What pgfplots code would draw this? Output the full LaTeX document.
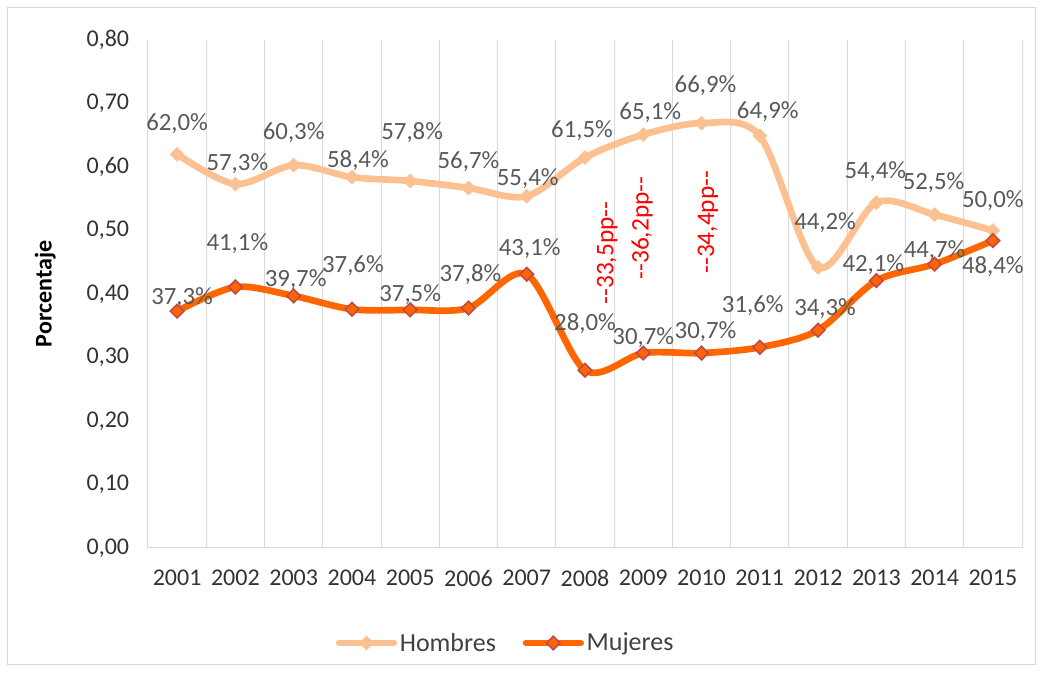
\documentclass[border=0pt]{standalone}
\usepackage{pgfplots}
\pgfplotsset{compat=1.18}
\usepackage{fontspec}
\setmainfont{Carlito}
\definecolor{hom}{RGB}{252,192,145}
\definecolor{muj}{RGB}{255,102,0}
\definecolor{mujedge}{RGB}{190,75,72}
\definecolor{gridc}{RGB}{217,217,217}
\definecolor{lblc}{RGB}{89,89,89}
\begin{document}
\begin{tikzpicture}[font=\fontsize{18}{21}\selectfont,
  dl/.style={text=lblc, inner sep=0pt, anchor=center, font=\fontsize{18.6}{21}\selectfont}]
\useasboundingbox (-111pt,-93.75pt) rectangle (670.5pt,411pt);
\draw[gridc, line width=0.75pt] (-105pt,-87.75pt) rectangle (665.25pt,405pt);
\begin{axis}[
  scale only axis, width=655.5pt, height=381pt,
  xmin=2000.5, xmax=2015.5, ymin=0, ymax=0.8,
  xtick={2001,2002,2003,2004,2005,2006,2007,2008,2009,2010,2011,2012,2013,2014,2015},
  xticklabels={2001,2002,2003,2004,2005,2006,2007,2008,2009,2010,2011,2012,2013,2014,2015},
  minor xtick={2000.5,2001.5,2002.5,2003.5,2004.5,2005.5,2006.5,2007.5,2008.5,2009.5,2010.5,2011.5,2012.5,2013.5,2014.5,2015.5},
  xminorgrids, minor grid style={gridc, line width=0.75pt},
  ytick={0,0.1,0.2,0.3,0.4,0.5,0.6,0.7,0.8},
  yticklabels={{0,00},{0,10},{0,20},{0,30},{0,40},{0,50},{0,60},{0,70},{0,80}},
  major tick length=0pt, minor tick length=0pt,
  axis line style={draw=none},
  tick style={draw=none},
  xticklabel style={anchor=center, yshift=-22.5pt, text=black!80},
  yticklabel style={anchor=east, inner sep=0pt, xshift=-14pt, text=black!80},
  clip=false,
  legend style={at={(0.4096,-0.187)}, anchor=center, draw=none, fill=none,
    legend columns=2, /tikz/every even column/.append style={column sep=18pt},
    text=black!75, font=\fontsize{19.5}{22}\selectfont},
  legend cell align=left,
  legend image code/.code={\draw[mark repeat=2, mark phase=2, #1] plot coordinates {(0pt,0pt) (20.5pt,0pt) (41pt,0pt)};},
]
\draw[gridc, line width=0.75pt] (rel axis cs:0,0) -- (rel axis cs:1,0);
\addplot[hom, line width=5pt, line cap=round, smooth, mark=square*, mark size=3.6pt,
  mark options={solid, rotate=45, fill=hom, draw=hom, line width=0.6pt}]
  coordinates {(2001,0.620) (2002,0.573) (2003,0.603) (2004,0.584) (2005,0.578) (2006,0.567) (2007,0.554) (2008,0.615) (2009,0.651) (2010,0.669) (2011,0.649) (2012,0.442) (2013,0.544) (2014,0.525) (2015,0.500)};
\addlegendentry{Hombres}
\addplot[muj, line width=5pt, line cap=round, smooth, mark=square*, mark size=3.6pt,
  mark options={solid, rotate=45, fill=muj, draw=mujedge, line width=1.2pt}]
  coordinates {(2001,0.373) (2002,0.411) (2003,0.397) (2004,0.376) (2005,0.375) (2006,0.378) (2007,0.431) (2008,0.280) (2009,0.307) (2010,0.307) (2011,0.316) (2012,0.343) (2013,0.421) (2014,0.447) (2015,0.484)};
\addlegendentry{Mujeres}
% Hombres labels
\node[dl, xshift=0pt, yshift=23.25pt] at (axis cs:2001,0.620) {62,0\%};
\node[dl, xshift=1.5pt, yshift=15.75pt] at (axis cs:2002,0.573) {57,3\%};
\node[dl, xshift=0pt, yshift=24pt] at (axis cs:2003,0.603) {60,3\%};
\node[dl, xshift=4.5pt, yshift=12.75pt] at (axis cs:2004,0.584) {58,4\%};
\node[dl, xshift=1.5pt, yshift=36pt] at (axis cs:2005,0.578) {57,8\%};
\node[dl, xshift=0pt, yshift=19.5pt] at (axis cs:2006,0.567) {56,7\%};
\node[dl, xshift=0.75pt, yshift=13.5pt] at (axis cs:2007,0.554) {55,4\%};
\node[dl, xshift=-2.25pt, yshift=20.25pt] at (axis cs:2008,0.615) {61,5\%};
\node[dl, xshift=5.25pt, yshift=16.5pt] at (axis cs:2009,0.651) {65,1\%};
\node[dl, xshift=3pt, yshift=28.5pt] at (axis cs:2010,0.669) {66,9\%};
\node[dl, xshift=6pt, yshift=18pt] at (axis cs:2011,0.649) {64,9\%};
\node[dl, xshift=5.25pt, yshift=33.75pt] at (axis cs:2012,0.442) {44,2\%};
\node[dl, xshift=-0.75pt, yshift=23.25pt] at (axis cs:2013,0.544) {54,4\%};
\node[dl, xshift=-0.75pt, yshift=24pt] at (axis cs:2014,0.525) {52,5\%};
\node[dl, xshift=0pt, yshift=22.5pt] at (axis cs:2015,0.500) {50,0\%};
% Mujeres labels
\node[dl, xshift=3.75pt, yshift=10.5pt] at (axis cs:2001,0.373) {37,3\%};
\node[dl, xshift=1.5pt, yshift=32.25pt] at (axis cs:2002,0.411) {41,1\%};
\node[dl, xshift=1.5pt, yshift=12pt] at (axis cs:2003,0.397) {39,7\%};
\node[dl, xshift=0.75pt, yshift=33pt] at (axis cs:2004,0.376) {37,6\%};
\node[dl, xshift=0pt, yshift=11.25pt] at (axis cs:2005,0.375) {37,5\%};
\node[dl, xshift=1.5pt, yshift=24.75pt] at (axis cs:2006,0.378) {37,8\%};
\node[dl, xshift=2.25pt, yshift=19.5pt] at (axis cs:2007,0.431) {43,1\%};
\node[dl, xshift=0pt, yshift=35.25pt] at (axis cs:2008,0.280) {28,0\%};
\node[dl, xshift=0pt, yshift=11.25pt] at (axis cs:2009,0.307) {30,7\%};
\node[dl, xshift=3pt, yshift=15.75pt] at (axis cs:2010,0.307) {30,7\%};
\node[dl, xshift=-5.25pt, yshift=31.5pt] at (axis cs:2011,0.316) {31,6\%};
\node[dl, xshift=5.25pt, yshift=16.5pt] at (axis cs:2012,0.343) {34,3\%};
\node[dl, xshift=-2.25pt, yshift=12pt] at (axis cs:2013,0.421) {42,1\%};
\node[dl, xshift=0pt, yshift=10.5pt] at (axis cs:2014,0.447) {44,7\%};
\node[dl, xshift=0pt, yshift=-19.5pt] at (axis cs:2015,0.484) {48,4\%};
% gap annotations
\node[rotate=90, text=red, inner sep=0pt, font=\fontsize{19}{22}\selectfont] at (axis cs:2008.38,0.4646) {-{}-33,5pp-{}-};
\node[rotate=90, text=red, inner sep=0pt, font=\fontsize{19}{22}\selectfont] at (axis cs:2008.98,0.504) {-{}-36,2pp-{}-};
\node[rotate=90, text=red, inner sep=0pt, font=\fontsize{19}{22}\selectfont] at (axis cs:2010.11,0.513) {-{}-34,4pp-{}-};
\end{axis}
\node[rotate=90, font=\bfseries\fontsize{18}{21}\selectfont, text=black] at (-77pt,190.5pt) {Porcentaje};
\end{tikzpicture}
\end{document}
